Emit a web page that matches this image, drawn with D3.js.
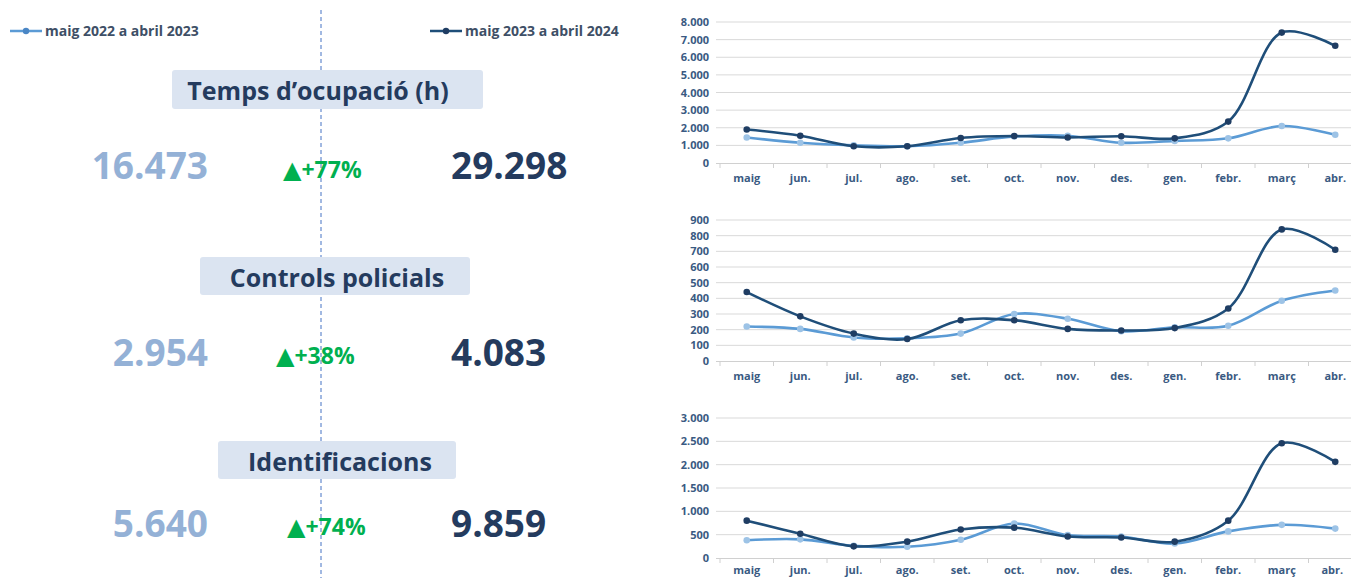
<!DOCTYPE html>
<html>
<head>
<meta charset="utf-8">
<script src="https://cdn.jsdelivr.net/npm/d3@7"></script>
<style>
  body { margin: 0; background: #fff; overflow: hidden; }
  text { font-family: "Open Sans", Lato, sans-serif; }
</style>
</head>
<body>
<svg id="drawing_region"></svg>
<script>
// months on the x axis
const months = ['maig','jun.','jul.','ago.','set.','oct.','nov.','des.','gen.','febr.','març','abr.'];
const seriesNames = ['maig 2022 a abril 2023', 'maig 2023 a abril 2024'];

// Temps d'ocupació (h)
const temps2022 = [1450, 1150, 1000, 950, 1150, 1500, 1550, 1150, 1250, 1400, 2100, 1600];
const temps2023 = [1900, 1550, 950, 950, 1420, 1530, 1450, 1520, 1400, 2350, 7400, 6650];
// Controls policials
const controls2022 = [220, 205, 150, 145, 175, 300, 270, 190, 215, 225, 385, 450];
const controls2023 = [440, 285, 175, 140, 260, 260, 205, 195, 210, 335, 840, 710];
// Identificacions
const ident2022 = [380, 400, 260, 240, 390, 740, 490, 460, 310, 570, 710, 630];
const ident2023 = [800, 520, 250, 350, 610, 650, 460, 440, 350, 800, 2460, 2060];

const titles = ['Temps d\u2019ocupació (h)', 'Controls policials', 'Identificacions'];
const totals2022 = ['16.473', '2.954', '5.640'];
const totals2023 = ['29.298', '4.083', '9.859'];
const changes = ['+77%', '+38%', '+74%'];

const yMax = [8000, 900, 3000];
const yStep = [1000, 100, 500];

const lightLine = '#5b9bd5', lightDot = '#9dc3e6';
const darkLine = '#1f4e79', darkDot = '#1f3d63';
const axisText = '#3a5a82';

const svg = d3.select('#drawing_region').attr('width', 1351).attr('height', 578);

// ---------- left panel ----------
svg.append('line')
  .attr('x1', 321).attr('x2', 321).attr('y1', 10).attr('y2', 578)
  .attr('stroke', '#4472c4').attr('stroke-width', 1).attr('stroke-dasharray', '4,3');

const legend = [{x: 10, c: lightLine, d: '#4a86c5'}, {x: 430, c: darkLine, d: darkDot}];
legend.forEach((l, i) => {
  svg.append('line').attr('x1', l.x).attr('x2', l.x + 32).attr('y1', 31).attr('y2', 31)
    .attr('stroke', l.c).attr('stroke-width', 2.5);
  svg.append('circle').attr('cx', l.x + 16).attr('cy', 31).attr('r', 3.2).attr('fill', l.d);
  svg.append('text').attr('x', l.x + 35).attr('y', 36).text(seriesNames[i])
    .attr('font-size', 14).attr('font-weight', 'bold').attr('fill', '#3e4f66');
});

const boxes = [
  {x: 172, y: 70, w: 311, h: 39, tx: 318, ny: 179, cy: 178, cx: 283},
  {x: 200, y: 257, w: 270, h: 38, tx: 337, ny: 366, cy: 364, cx: 276},
  {x: 218, y: 441, w: 238, h: 38, tx: 340, ny: 537, cy: 535, cx: 287}
];
boxes.forEach((b, i) => {
  svg.append('rect').attr('x', b.x).attr('y', b.y).attr('width', b.w).attr('height', b.h)
    .attr('rx', 3).attr('fill', '#dbe4f1');
  svg.append('text').attr('x', b.tx).attr('y', b.y + 30)
    .attr('text-anchor', 'middle').attr('font-size', 25).attr('font-weight', 'bold')
    .attr('fill', '#243b5e').text(titles[i]);
  svg.append('text').attr('x', 208).attr('y', b.ny).attr('text-anchor', 'end')
    .attr('font-size', 37).attr('font-weight', 'bold').attr('fill', '#94b1d6').text(totals2022[i]);
  svg.append('text').attr('x', 451).attr('y', b.ny).attr('text-anchor', 'start')
    .attr('font-size', 37).attr('font-weight', 'bold').attr('fill', '#243b5e').text(totals2023[i]);
  const ch = svg.append('text').attr('x', b.cx).attr('y', b.cy)
    .attr('font-weight', 'bold').attr('fill', '#00b050');
  ch.append('tspan').attr('font-family', 'DejaVu Sans').attr('font-size', 24).text('\u25B2');
  ch.append('tspan').attr('font-size', 23).text(changes[i]);
});

// ---------- right panel: three line charts ----------
const charts = [
  {top: 22, bottom: 163, pad: 11, a: temps2022, b: temps2023},
  {top: 220, bottom: 361, pad: 11, a: controls2022, b: controls2023},
  {top: 418, bottom: 558, pad: 8, a: ident2022, b: ident2023}
];

const xscale = d3.scaleBand().domain(months).range([720, 1362]).padding(0);

charts.forEach((c, i) => {
  const g = svg.append('g');
  const yscale = d3.scaleLinear().domain([0, yMax[i]]).range([c.bottom, c.top]);
  const ticks = d3.range(0, yMax[i] + 1, yStep[i]);

  g.selectAll('.grid').data(ticks.filter(t => t > 0)).enter().append('line')
    .attr('x1', 716).attr('x2', 1351)
    .attr('y1', d => yscale(d)).attr('y2', d => yscale(d))
    .attr('stroke', '#d9d9d9').attr('stroke-width', 1);

  const yaxis = d3.axisLeft(yscale).tickValues(ticks).tickSize(0).tickPadding(0)
    .tickFormat(d => d3.format(',')(d).replace(/,/g, '.'));
  const yg = g.append('g').attr('transform', 'translate(709,0)').call(yaxis);
  yg.select('.domain').remove();
  yg.selectAll('text').attr('font-size', 11).attr('font-weight', 'bold').attr('fill', axisText);

  const xaxis = d3.axisBottom(xscale).tickSize(0).tickPadding(c.pad).tickSizeOuter(0);
  const xg = g.append('g').attr('transform', `translate(0,${c.bottom})`).call(xaxis);
  xg.select('.domain').attr('stroke', '#d0d0d0').attr('d', 'M716,0.5H1351');
  xg.selectAll('text').attr('font-size', 11).attr('font-weight', 'bold').attr('fill', axisText);
  if (i === 2) xg.selectAll('text').filter(d => d === 'abr.').attr('dx', -3);

  g.selectAll('.sep').data(months).enter().append('line')
    .attr('x1', d => xscale(d)).attr('x2', d => xscale(d))
    .attr('y1', c.bottom).attr('y2', c.bottom + 5)
    .attr('stroke', '#d0d0d0');

  const line = d3.line()
    .x((d, j) => xscale(months[j]) + xscale.bandwidth() / 2)
    .y(d => yscale(d))
    .curve(d3.curveCatmullRom.alpha(0.5));

  [[c.a, lightLine, lightDot], [c.b, darkLine, darkDot]].forEach(s => {
    g.append('path').attr('d', line(s[0])).attr('fill', 'none')
      .attr('stroke', s[1]).attr('stroke-width', 2.6);
    g.selectAll(null).data(s[0]).enter().append('circle')
      .attr('cx', (d, j) => xscale(months[j]) + xscale.bandwidth() / 2)
      .attr('cy', d => yscale(d))
      .attr('r', 3.3).attr('fill', s[2]);
  });
});
</script>
</body>
</html>
